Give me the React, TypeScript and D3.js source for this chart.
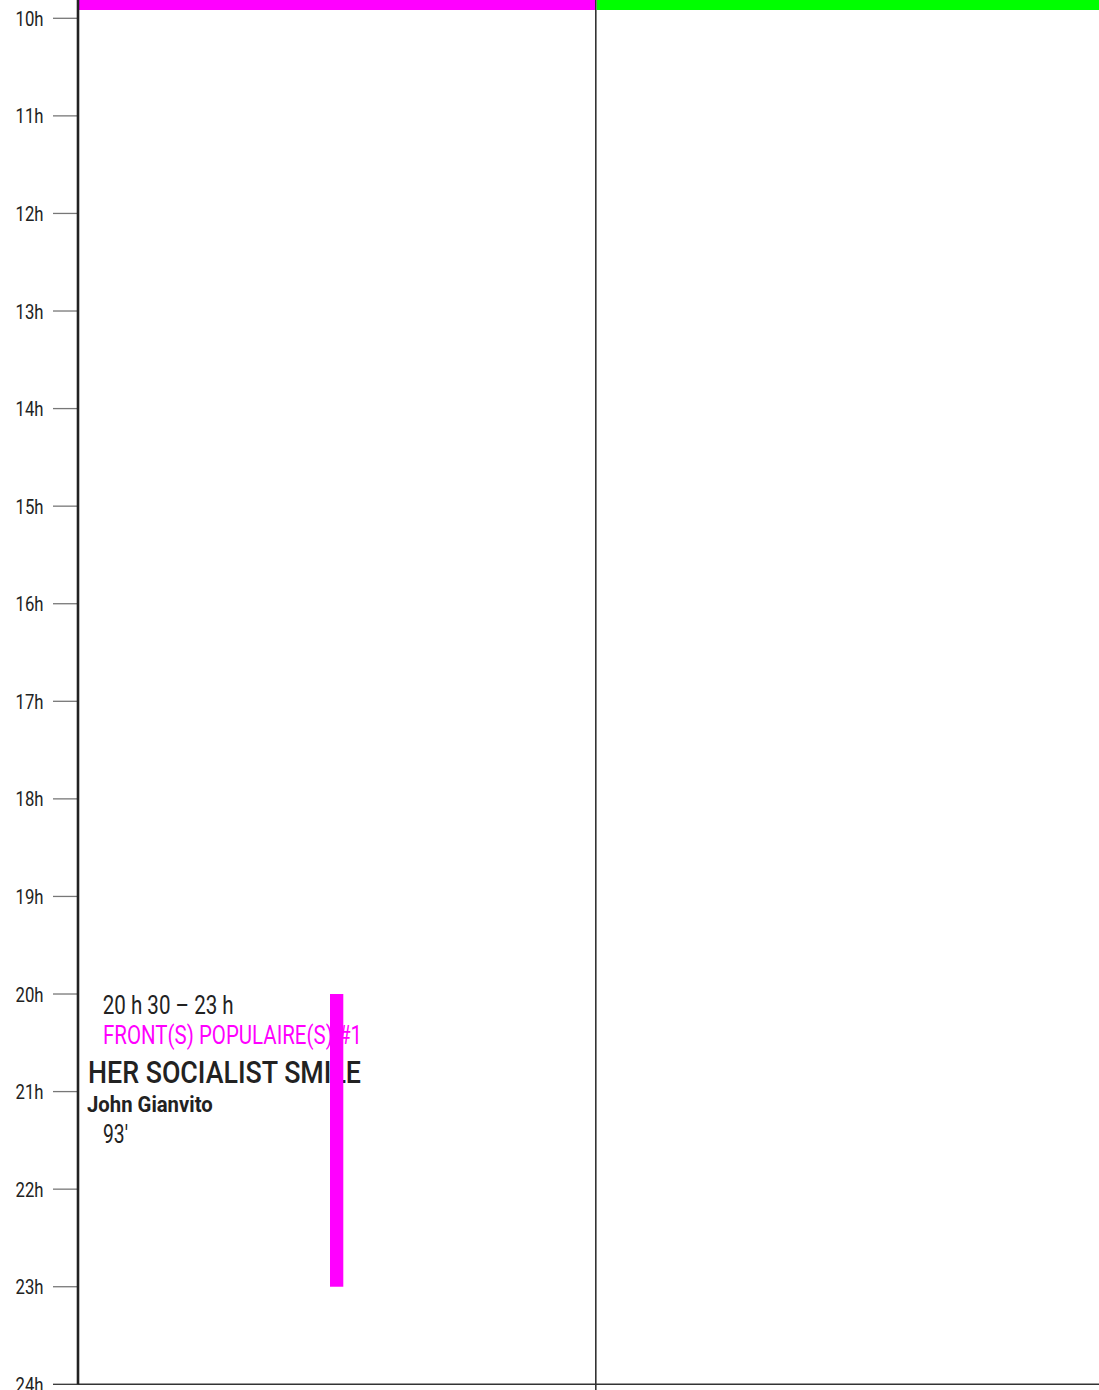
import * as d3 from 'd3';

const hours = d3.range(10, 25);
const hourLabels = hours.map((h) => `${h}h`);
const columns = ['col1', 'col2'];
const columnColors = ['#ff00ff', '#00ff00'];

// one screening
const eventColumn = ['col1'];
const eventStart = [20.5];
const eventEnd = [23];
const eventBarStart = [20];
const eventTimeLabel = ['20 h 30  –  23 h'];
const eventProgram = ['FRONT(S) POPULAIRE(S) #1'];
const eventTitle = ['HER SOCIALIST SMILE'];
const eventDirector = ['John Gianvito'];
const eventDuration = ['93′'];

const width = 1099;
const height = 1390;
const axisX = 78;
const colWidth = 517.8;
const font = 'Roboto, "Liberation Sans", sans-serif';

const App = (): JSX.Element => {
  const y = d3.scaleLinear([10, 24], [18.3, 1384.3]);
  const x = d3.scaleBand(columns, [axisX, axisX + colWidth * columns.length]).paddingInner(0);
  const fit = { lengthAdjust: 'spacingAndGlyphs' as const };

  return (
    <div style={{ position: 'absolute', left: 0, top: 0 }}>
      <svg width={width} height={height} viewBox={`0 0 ${width} ${height}`} style={{ display: 'block', background: '#fff' }}>
        {/* column header bars */}
        {columns.map((c, i) => (
          <rect key={c} x={(x(c) as number) + 1} y={0} width={x.bandwidth() - 1} height={10} fill={columnColors[i]} />
        ))}

        {/* hour ticks */}
        <g fontFamily={font} fontSize={20} fill="#222">
          {hours.map((h, i) => (
            <g key={h} transform={`translate(0,${y(h)})`}>
              <line x1={53} x2={axisX} stroke={h === 24 ? '#333' : '#777'} strokeWidth={1.3} />
              <text x={43.5} y={7.6} textAnchor="end" textLength={28} {...fit}>
                {hourLabels[i]}
              </text>
            </g>
          ))}
        </g>

        {/* events */}
        {eventColumn.map((c, i) => {
          const x0 = x(c) as number;
          const ty = y(eventStart[i]);
          return (
            <g key={i} fontFamily={font} fill="#222">
              <text x={x0 + 24.7} y={ty - 29} fontSize={26} textLength={131} {...fit}>
                {eventTimeLabel[i]}
              </text>
              <text x={x0 + 25} y={ty + 1.3} fontSize={26} fill="#ff00ff" textLength={259} {...fit}>
                {eventProgram[i]}
              </text>
              <text x={x0 + 10} y={ty + 39.7} fontSize={31.5} fontWeight={500} textLength={273} {...fit}>
                {eventTitle[i]}
              </text>
              <text x={x0 + 9} y={ty + 69.3} fontSize={22} fontWeight="bold" textLength={125.7} {...fit}>
                {eventDirector[i]}
              </text>
              <text x={x0 + 25} y={ty + 100.3} fontSize={26} textLength={25} {...fit}>
                {eventDuration[i]}
              </text>
              <rect
                x={x0 + 252}
                y={y(eventBarStart[i])}
                width={13.3}
                height={y(eventEnd[i]) - y(eventBarStart[i])}
                fill="#ff00ff"
              />
            </g>
          );
        })}

        {/* column divider and frame */}
        <line x1={x('col2') as number} x2={x('col2') as number} y1={0} y2={height} stroke="#333" strokeWidth={1.6} />
        <line x1={axisX} x2={width} y1={y(24)} y2={y(24)} stroke="#333" strokeWidth={1.6} />
        <line x1={axisX} x2={axisX} y1={0} y2={y(24)} stroke="#222" strokeWidth={2.6} />
      </svg>
    </div>
  );
};

export default App;
